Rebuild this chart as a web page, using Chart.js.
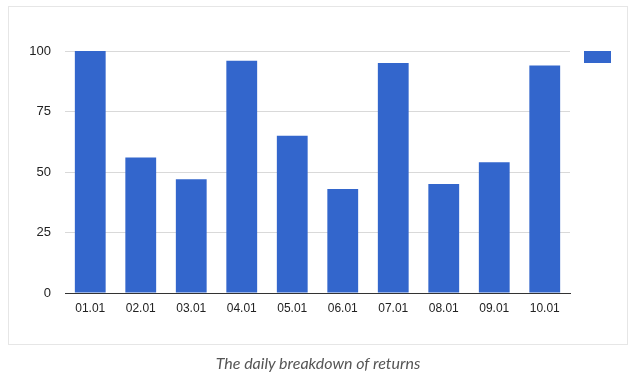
<!DOCTYPE html>
<html>
<head>
<meta charset="utf-8">
<script src="https://cdn.jsdelivr.net/npm/chart.js@4/dist/chart.umd.min.js"></script>
<style>
  html, body { margin: 0; padding: 0; background: #fff; }
  body { width: 636px; height: 385px; position: relative; overflow: hidden; }
  #frame { position: absolute; left: 8px; top: 6px; width: 618px; height: 337px; border: 1px solid #e6e6e6; }
  #wrap { position: absolute; left: 0; top: 0; width: 636px; height: 385px; }
  #caption { position: absolute; left: 0; width: 636px; top: 353px; text-align: center;
    font-family: Lato, sans-serif; font-style: italic; font-size: 16px; color: #555; }
</style>
</head>
<body>
<div id="frame"></div>
<div id="wrap"><canvas id="c" width="636" height="385"></canvas></div>
<div id="caption">The daily breakdown of returns</div>
<script>
const categories = ['01.01','02.01','03.01','04.01','05.01','06.01','07.01','08.01','09.01','10.01'];
const returnsValues = [100, 56, 47, 96, 65, 43, 95, 45, 54, 94];
const yTicks = [0, 25, 50, 75, 100];

new Chart(document.getElementById('c'), {
  type: 'bar',
  data: {
    labels: categories,
    datasets: [{
      label: '',
      data: returnsValues,
      backgroundColor: '#3366cc',
      borderWidth: 0,
      categoryPercentage: 1,
      barPercentage: 0.61
    }]
  },
  options: {
    responsive: false,
    animation: false,
    layout: { padding: { left: 0, right: 9, top: 51, bottom: 0 } },
    plugins: {
      legend: {
        position: 'right',
        align: 'start',
        labels: { boxWidth: 28, boxHeight: 13, padding: -1, font: { size: 12 } }
      },
      tooltip: { enabled: false },
      title: { display: false }
    },
    scales: {
      x: {
        grid: { display: false, drawTicks: false },
        border: { display: true, color: '#333', width: 1 },
        ticks: { color: '#222', font: { family: 'Arial, "Liberation Sans"', size: 12 }, padding: 8, maxRotation: 0 },
        afterFit: s => { s.height = 92; }
      },
      y: {
        min: 0, max: 100,
        afterBuildTicks: s => { s.ticks = yTicks.map(v => ({ value: v })); },
        grid: { color: '#d9d9d9', drawTicks: false, lineWidth: 1 },
        border: { display: false },
        ticks: { color: '#222', font: { family: 'Arial, "Liberation Sans"', size: 13 }, padding: 14 },
        afterFit: s => { s.width = 65; }
      },
      y2: {
        position: 'right',
        display: true,
        grid: { display: false, drawTicks: false },
        border: { display: false },
        ticks: { display: false },
        afterFit: s => { s.width = 14; }
      }
    }
  }
});
</script>
</body>
</html>
